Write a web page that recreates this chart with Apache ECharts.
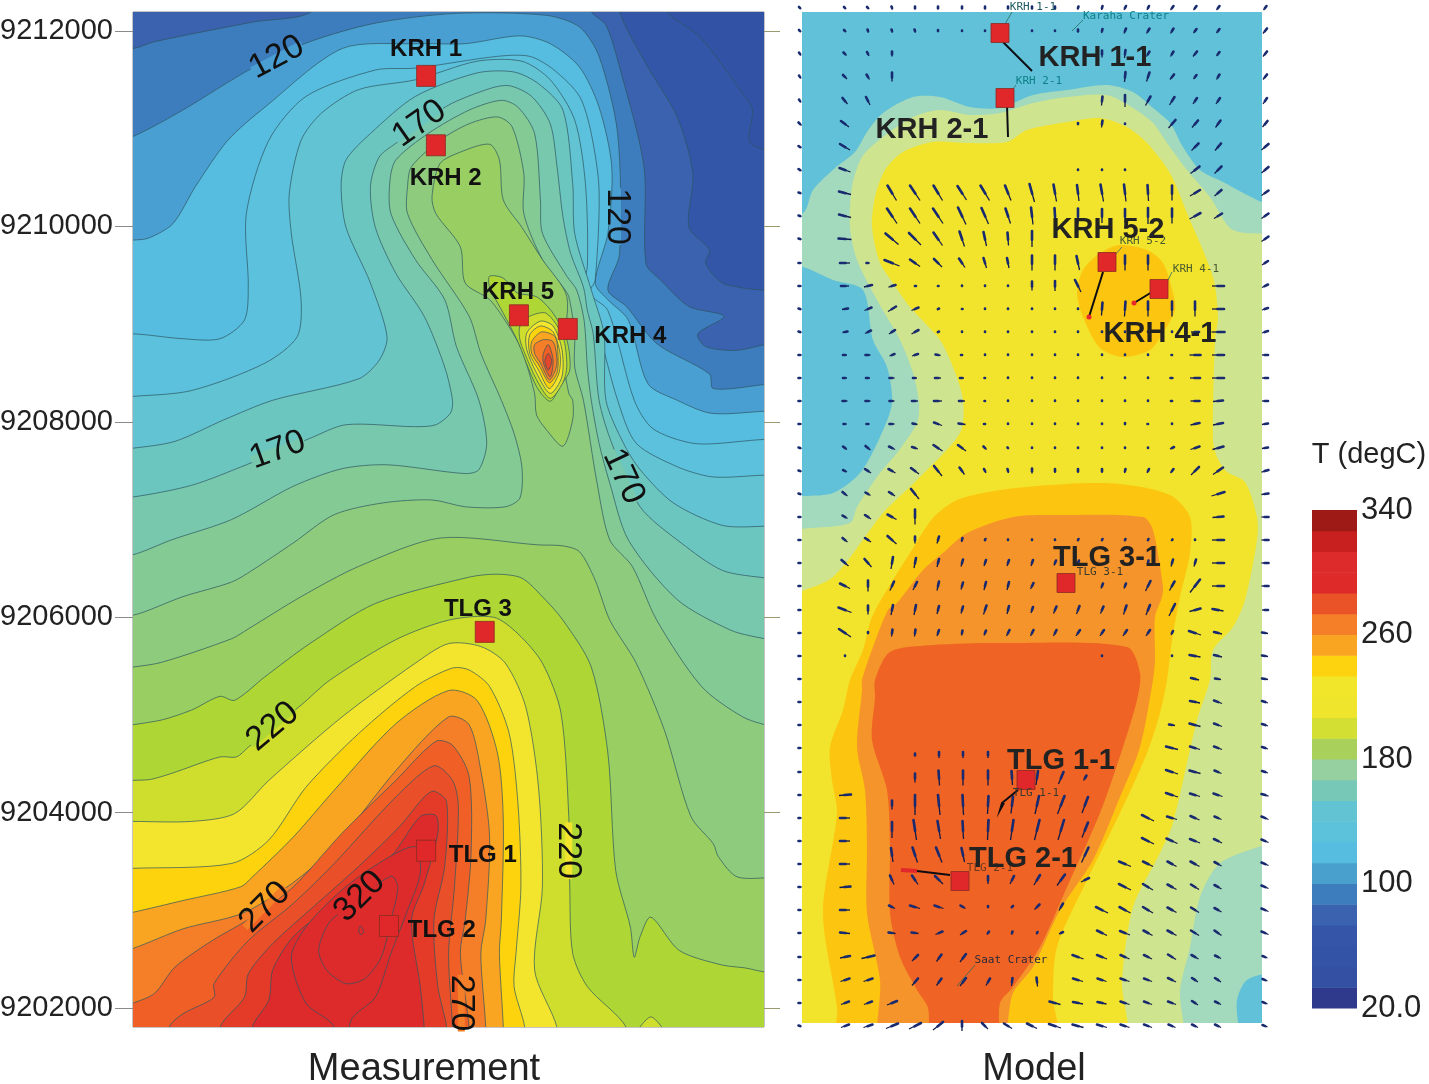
<!DOCTYPE html>
<html><head><meta charset="utf-8"><title>Measurement and Model</title>
<style>html,body{margin:0;padding:0;background:#fff}#c{width:1429px;height:1084px}</style>
<script src="https://cdn.jsdelivr.net/npm/echarts@6/dist/echarts.min.js"></script>
</head><body><div id="c"></div>
<script>
// Measured isotherms: easting (km from the map's west edge), northing (km above 9200000 m)
const m90=[[-0.4,12.6],[5.3,12.6],[5.46,12.2],[5.8,11.94],[6.24,11.36],[6.34,11.19],[6.32,10.85],[6.9,10.6]];
const m100=[[-0.4,12.6],[4.98,12.6],[4.98,12.2],[5.27,11.63],[5.57,11.12],[5.73,10.54],[5.69,9.99],[5.9,9.76],[5.86,9.62],[6.03,9.42],[6.19,9.38],[6.9,9.18]];
const m110=[[-0.4,11.82],[0,11.82],[0.22,11.89],[1.22,12.09],[1.83,12.2],[1.9,12.6],[4.6,12.6],[4.69,12.2],[4.84,12.06],[4.98,11.63],[5.23,10.61],[5.25,9.62],[5.4,9.45],[5.69,9.18],[6.05,9.08],[5.78,8.9],[5.86,8.77],[6.15,8.73],[6.9,8.77]];
const m120=[[-0.4,10.8],[0,10.92],[0.51,11.19],[1.22,11.62],[1.81,11.89],[2.48,12.08],[3.31,12.18],[4.23,12.16],[4.57,12.04],[4.77,11.74],[4.96,10.95],[4.98,9.72],[4.86,9.35],[5.05,9.18],[5.36,8.8],[5.9,8.49],[5.94,8.34],[6.9,8.29]];
const m130=[[-0.4,9.84],[0,9.86],[0.16,9.88],[0.41,10.03],[0.64,10.41],[0.97,10.88],[1.35,11.22],[2.14,11.82],[2.89,11.87],[3.4,11.87],[3.96,11.95],[4.27,11.87],[4.57,11.63],[4.77,11.22],[4.9,10.61],[4.86,9.93],[4.73,9.42],[4.86,9.25],[5.07,9.04],[5.27,8.39],[5.57,8.22],[5.9,8.09],[6.9,7.98]];
const m140=[[-0.4,8.88],[0,8.9],[0.51,8.85],[0.89,8.85],[1.14,9.04],[1.18,9.38],[1.16,10.13],[1.39,10.88],[1.77,11.33],[2.48,11.6],[2.89,11.62],[3.73,11.74],[4.06,11.74],[4.31,11.6],[4.57,11.33],[4.69,10.95],[4.77,10.37],[4.73,9.45],[4.67,9.31],[4.86,9.14],[5.13,8.22],[5.32,7.93],[5.73,7.78],[6.9,7.68]];
const m150=[[-0.4,8.24],[0,8.26],[0.6,8.32],[1.35,8.6],[1.68,8.87],[1.72,9.25],[1.62,9.93],[1.6,10.34],[1.72,10.88],[1.93,11.16],[2.31,11.4],[2.89,11.5],[3.52,11.69],[3.98,11.69],[4.27,11.5],[4.52,11.09],[4.63,10.44],[4.65,9.59],[4.59,9.31],[4.73,9.04],[4.96,8.22],[5.15,7.78],[5.57,7.54],[5.9,7.44],[6.9,7.32]];
const m160=[[-0.4,7.7],[0,7.73],[0.43,7.8],[0.93,8.02],[1.43,8.22],[2.31,8.44],[2.52,8.63],[2.6,8.87],[2.43,9.42],[2.18,9.99],[2.13,10.41],[2.18,10.68],[2.43,10.95],[2.89,11.33],[3.52,11.57],[3.9,11.58],[4.15,11.46],[4.4,11.19],[4.5,10.44],[4.52,9.93],[4.69,9.35],[4.82,8.9],[4.84,8.22],[5.02,7.78],[5.19,7.51],[5.53,7.17],[6.03,6.94],[6.9,6.81]];
const m170=[[-0.4,7.2],[0,7.23],[0.6,7.35],[1.16,7.56],[1.81,7.83],[2.18,7.97],[2.89,7.95],[3.1,7.97],[3.25,8.09],[3.27,8.22],[3.19,8.56],[2.98,9.08],[2.69,9.52],[2.48,9.99],[2.43,10.41],[2.52,10.71],[2.69,10.85],[3.21,11.23],[3.65,11.41],[3.85,11.44],[4.08,11.33],[4.27,11.05],[4.34,10.61],[4.4,10.1],[4.48,9.72],[4.61,9.38],[4.65,9.14],[4.71,8.9],[4.77,8.22],[4.9,7.78],[5.19,7.13],[5.61,6.76],[6.03,6.48],[6.9,6.21]];
const m180=[[-0.4,6.6],[0,6.64],[0.39,6.79],[1.01,7.0],[1.64,7.34],[2.14,7.52],[2.6,7.56],[3.4,7.47],[3.54,7.51],[3.62,7.78],[3.54,8.22],[3.31,8.77],[3.19,9.25],[2.89,9.66],[2.64,10.13],[2.63,10.47],[2.69,10.68],[3.02,10.95],[3.44,11.19],[3.77,11.29],[3.94,11.22],[4.11,10.95],[4.17,10.27],[4.19,9.93],[4.44,9.49],[4.54,9.35],[4.61,9.08],[4.63,8.9],[4.65,8.56],[4.69,8.22],[4.77,7.78],[4.88,7.37],[5.07,6.79],[5.57,6.18],[6.11,5.87],[6.9,5.56]];
const m190=[[-0.4,6.0],[0,6.02],[0.51,6.21],[1.01,6.36],[1.22,6.48],[1.64,6.76],[2.06,7.05],[2.56,7.17],[3.06,7.2],[3.4,7.13],[3.81,7.13],[3.96,7.22],[3.98,7.54],[3.9,7.88],[3.77,8.22],[3.56,8.7],[3.44,9.08],[3.06,9.66],[2.81,10.13],[2.81,10.41],[2.85,10.61],[3.14,10.88],[3.44,11.05],[3.73,11.12],[3.88,11.02],[4.0,10.54],[4.0,10.13],[4.19,9.66],[4.4,9.38],[4.46,9.28],[4.52,8.9],[4.52,8.56],[4.61,8.22],[4.75,7.37],[4.88,6.79],[5.11,6.52],[5.36,5.97],[5.82,5.29],[6.24,4.98],[6.9,4.67]];
const m200south=[[-0.4,5.45],[0,5.49],[0.3,5.54],[1.01,5.78],[1.18,5.88],[1.72,6.21],[2.31,6.52],[3.14,6.81],[4.15,6.74],[4.4,6.73],[4.57,6.67],[4.73,6.38],[4.88,5.97],[5.15,5.53],[5.44,4.84],[5.71,3.96],[5.94,3.68],[5.99,3.55],[6.19,3.34],[6.9,3.27]];
const m200north=[[3.06,10.3],[3.1,10.13],[3.35,9.79],[3.4,9.42],[3.65,9.25],[3.85,8.97],[3.98,8.73],[4.11,8.29],[4.13,8.07],[4.23,7.92],[4.4,7.75],[4.5,8.02],[4.5,8.22],[4.46,8.29],[4.4,8.7],[4.44,9.28],[4.19,9.66],[3.98,9.99],[3.79,10.27],[3.75,10.68],[3.65,10.84],[3.35,10.76],[3.14,10.64]];
const m210=[[-0.4,4.85],[0,4.9],[0.3,4.95],[0.6,5.05],[0.89,5.19],[1.04,5.15],[1.35,5.39],[1.81,5.73],[2.48,6.14],[3.44,6.41],[3.73,6.44],[3.98,6.4],[4.19,6.21],[4.4,5.97],[4.69,5.49],[4.86,4.61],[4.94,3.41],[5.09,2.83],[5.13,2.52],[5.19,2.73],[5.3,2.93],[5.59,2.59],[6.03,2.44],[6.32,2.4],[6.9,2.2]];
const m210peak=[[3.65,9.49],[3.79,9.47],[3.93,9.32],[4.13,9.28],[4.3,9.11],[4.44,8.84],[4.47,8.53],[4.37,8.36],[4.27,8.21],[4.13,8.36],[3.93,8.84],[3.79,9.11],[3.65,9.38]];
const m220peak=[[3.96,8.98],[4.06,9.08],[4.23,9.11],[4.4,8.87],[4.44,8.57],[4.4,8.4],[4.27,8.24],[4.13,8.43],[4.01,8.7],[3.96,8.84]];
const m230peak=[[4.03,8.91],[4.17,9.03],[4.3,8.98],[4.39,8.74],[4.39,8.46],[4.27,8.29],[4.13,8.5],[4.03,8.74]];
const m240peak=[[4.06,8.89],[4.17,8.98],[4.3,8.92],[4.37,8.7],[4.36,8.5],[4.26,8.34],[4.15,8.53],[4.06,8.7]];
const m250peak=[[4.08,8.82],[4.18,8.92],[4.32,8.87],[4.35,8.67],[4.34,8.5],[4.26,8.4],[4.16,8.57],[4.08,8.7]];
const m260peak=[[4.11,8.79],[4.2,8.84],[4.3,8.82],[4.34,8.63],[4.32,8.52],[4.26,8.43],[4.17,8.6],[4.11,8.7]];
const m270peak=[[4.2,8.7],[4.25,8.79],[4.3,8.63],[4.27,8.46],[4.2,8.6]];
const m280peak=[[4.25,8.7],[4.285,8.62],[4.25,8.53],[4.215,8.62]];
const m220=[[-0.4,4.3],[0,4.33],[0.18,4.34],[0.39,4.4],[0.89,4.57],[1.06,4.57],[1.18,4.67],[1.72,5.1],[2.02,5.36],[2.69,5.77],[3.23,5.97],[3.69,6.0],[3.94,5.83],[4.19,5.53],[4.38,5.02],[4.46,3.96],[4.47,3.24],[4.5,2.56],[4.65,2.22],[5.05,1.8],[5.2,1.2]];
const m220island=[[5.14,1.7],[5.3,1.91],[5.46,1.7]];
const m230=[[-0.4,3.91],[0,3.91],[0.6,3.91],[1.04,3.99],[1.39,4.33],[2.14,4.98],[2.89,5.53],[3.23,5.73],[3.56,5.7],[3.81,5.53],[4.02,5.08],[4.15,4.26],[4.19,3.24],[4.11,2.39],[4.34,1.8],[4.4,1.2]];
const m240=[[-0.4,3.42],[0,3.43],[1.01,3.48],[1.39,3.72],[1.77,4.26],[2.31,4.81],[2.89,5.29],[3.27,5.48],[3.44,5.46],[3.65,5.29],[3.85,4.81],[3.94,4.09],[3.97,3.24],[3.92,2.56],[3.9,2.22],[4.01,1.8],[4.05,1.2]];
const m250=[[-0.4,2.9],[0,2.98],[0.51,3.1],[1.1,3.24],[1.22,3.34],[1.64,3.75],[2.06,4.23],[2.69,4.91],[3.23,5.25],[3.52,5.15],[3.73,4.61],[3.79,3.92],[3.77,2.9],[3.75,2.56],[3.79,1.8],[3.8,1.2]];
const m260=[[-0.4,2.5],[0,2.61],[0.51,2.81],[1.12,2.97],[1.62,3.27],[2.06,3.65],[2.69,4.43],[3.23,4.98],[3.44,4.9],[3.56,4.43],[3.65,3.75],[3.61,2.9],[3.56,2.56],[3.61,1.8],[3.62,1.2]];
const m270=[[-0.4,1.9],[0,2.05],[0.22,2.15],[0.43,2.42],[0.81,2.69],[1.22,2.93],[1.64,3.24],[2.14,3.79],[2.69,4.33],[3.1,4.73],[3.27,4.69],[3.44,4.37],[3.46,3.58],[3.4,2.9],[3.35,2.56],[3.44,1.8],[3.45,1.2]];
const m280=[[0.33,1.2],[0.37,1.8],[0.51,1.94],[0.83,2.11],[0.83,2.25],[1.18,2.69],[1.64,3.07],[2.06,3.48],[2.69,4.16],[3.08,4.48],[3.27,4.33],[3.33,4.06],[3.29,3.24],[3.23,2.56],[3.27,1.8],[3.28,1.2]];
const m290=[[0.85,1.2],[0.89,1.8],[1.14,2.11],[1.18,2.35],[1.43,2.66],[1.85,3.04],[2.31,3.45],[2.73,3.86],[2.98,4.16],[3.08,4.22],[3.21,4.11],[3.19,3.45],[3.08,2.9],[3.12,2.22],[3.21,1.8],[3.22,1.2]];
const m300=[[1.2,1.2],[1.22,1.8],[1.39,2.08],[1.43,2.39],[1.64,2.73],[2.06,3.07],[2.64,3.55],[2.94,3.96],[3.1,3.97],[3.12,3.79],[2.98,3.27],[2.85,2.9],[2.94,2.22],[2.98,1.8],[3.0,1.2]];
const m310=[[2.0,1.2],[2.06,1.8],[1.77,2.05],[1.62,2.52],[1.77,2.83],[2.14,3.21],[2.56,3.51],[2.89,3.65],[2.94,3.38],[2.81,3.0],[2.64,2.56],[2.48,2.11],[2.23,1.87],[2.2,1.2]];
const m320=[[2.64,3.35],[2.71,3.24],[2.64,2.9],[2.54,2.52],[2.37,2.3],[2.18,2.25],[1.98,2.39],[1.9,2.59],[1.98,2.83],[2.06,2.93]];
const m320spot=[[2.33,2.84],[2.36,2.78],[2.33,2.75],[2.31,2.8]];

// Modelled temperature zones: x, y in km from the model panel's south-west corner
const zoneTeal=[[-0.3,8.1],[0.01,8.1],[0.11,8.33],[0.33,8.55],[0.53,8.71],[0.65,8.91],[0.81,9.1],[1.11,9.26],[1.38,9.26],[1.68,9.16],[1.98,9.15],[2.31,9.28],[2.65,9.33],[3.05,9.38],[3.31,9.31],[3.51,9.15],[3.68,9.0],[3.81,8.76],[3.98,8.53],[4.21,8.41],[4.6,8.21],[4.9,8.15],[4.9,0.63],[4.45,0.43],[4.35,0.23],[4.31,-0.3],[-0.3,-0.3],[-0.3,5.16],[0.31,5.3],[0.58,5.5],[0.78,5.86],[0.9,6.2],[0.85,6.56],[0.71,6.83],[0.61,7.33],[0.31,7.43],[0.01,7.56],[-0.3,7.6]];
const zoneLime=[[-0.3,4.8],[0.48,5.0],[0.55,5.16],[0.78,5.5],[0.95,5.7],[1.15,6.0],[1.17,6.2],[1.11,6.5],[0.98,6.83],[0.75,7.23],[0.55,7.63],[0.48,7.96],[0.5,8.36],[0.6,8.66],[0.81,8.86],[1.11,9.06],[1.38,9.13],[1.68,9.08],[1.98,9.1],[2.31,9.2],[2.65,9.26],[3.05,9.28],[3.31,9.15],[3.51,9.0],[3.65,8.8],[3.85,8.53],[4.08,8.26],[4.31,7.93],[4.9,7.8],[4.9,2.0],[4.18,1.6],[3.98,1.26],[3.88,0.76],[3.78,0.33],[3.76,-0.3],[-0.3,-0.3]];
const zoneYellow=[[-0.3,4.11],[0.31,4.46],[0.81,5.1],[1.15,5.43],[1.58,5.9],[1.61,6.23],[1.51,6.56],[1.38,6.83],[1.08,7.16],[0.91,7.4],[0.78,7.6],[0.7,7.96],[0.73,8.26],[0.83,8.53],[1.01,8.71],[1.31,8.81],[1.65,8.8],[2.05,8.81],[2.25,8.93],[2.65,9.01],[2.98,9.05],[3.25,8.96],[3.45,8.8],[3.68,8.5],[3.85,8.1],[4.11,7.46],[4.16,7.06],[4.13,6.83],[4.11,5.83],[4.15,5.66],[4.25,5.51],[4.43,5.41],[4.55,5.06],[4.55,4.83],[4.43,4.23],[4.31,3.96],[4.11,3.73],[4.08,3.43],[3.95,3.03],[3.71,2.0],[3.58,1.7],[3.31,1.16],[3.2,0.43],[3.2,-0.3],[-0.3,-0.3]];
const zoneGoldNorth=[[2.75,7.3],[2.81,7.53],[2.98,7.7],[3.18,7.78],[3.45,7.73],[3.61,7.6],[3.71,7.3],[3.73,7.13],[3.61,6.9],[3.48,6.73],[3.21,6.66],[2.98,6.75],[2.81,7.06]];
const zoneGoldSouth=[[0.48,3.43],[0.61,3.73],[0.7,4.06],[0.91,4.43],[1.08,4.7],[1.31,5.05],[1.55,5.23],[1.98,5.33],[2.65,5.39],[3.18,5.39],[3.68,5.28],[3.88,5.06],[3.88,4.7],[3.78,4.26],[3.7,3.83],[3.65,3.43],[3.58,3.1],[3.45,2.7],[3.18,2.1],[2.85,1.43],[2.55,0.76],[2.51,0.26],[2.54,-0.3],[0.38,-0.3],[0.35,0.16],[0.21,1.1],[0.35,2.1],[0.3,2.43],[0.28,2.76],[0.41,3.13]];
const zoneOrange=[[0.6,3.43],[0.71,3.76],[0.86,4.13],[0.95,4.2],[1.21,4.53],[1.41,4.7],[1.65,4.9],[2.11,5.06],[2.58,5.08],[3.41,5.06],[3.51,4.93],[3.61,4.36],[3.6,4.26],[3.53,4.06],[3.53,3.63],[3.51,3.43],[3.38,2.76],[3.18,2.26],[2.91,1.63],[2.58,1.13],[2.31,0.56],[2.11,0.3],[1.95,-0.3],[0.81,-0.3],[0.78,0.43],[0.65,1.1],[0.65,1.76],[0.63,2.33],[0.55,2.76],[0.6,3.33]];
const zoneDeepOrange=[[0.73,3.43],[0.88,3.71],[1.31,3.78],[2.05,3.8],[3.25,3.76],[3.38,3.5],[3.35,3.23],[3.21,2.76],[2.98,2.1],[2.65,1.36],[2.38,0.76],[2.11,0.36],[1.98,0.2],[1.93,-0.3],[1.31,-0.3],[1.26,0.15],[1.15,0.33],[0.98,0.66],[0.88,1.1],[0.88,1.76],[0.85,2.33],[0.7,2.83],[0.73,3.26]];

// Velocity arrows on the model grid: u, v pairs in the order of vecColumns
const vecColumns=[-0.02,0.43,0.66,0.9,1.13,1.36,1.6,1.83,2.06,2.3,2.53,2.76,3.0,3.23,3.46,3.7,3.93,4.16,4.63];
const vecRows=[10.15,9.92,9.69,9.46,9.22,8.99,8.76,8.53,8.30,8.07,7.84,7.60,7.37,7.14,6.91,6.68,6.45,6.22,5.99,5.75,5.52,5.29,5.06,4.83,4.60,4.37,4.13,3.90,3.67,3.44,3.21,2.98,2.75,2.51,2.28,2.05,1.82,1.59,1.36,1.13,0.90,0.66,0.43,0.20,-0.03];
const vecRow00=[-2,2,-2,2,-2,2,-1,3,0,3,0,3,0,3,0,3,0,3,0,3,0,3,1,3,1,4,2,4,2,4,3,4,3,4,3,4,3,4];
const vecRow01=[-2,2,-2,2,-1,3,-1,3,-1,3,0,2,0,1,0,1,0,0,0,1,0,1,0,3,1,4,2,5,3,5,3,5,3,4,3,4,4,5];
const vecRow02=[-2,3,-3,3,-2,4,0,5,0,0,0,0,0,0,0,0,0,0,0,0,0,0,0,0,0,7,1,8,3,5,3,5,4,5,3,4,4,5];
const vecRow03=[-2,3,-4,4,-3,5,0,9,0,0,0,0,0,0,0,0,0,0,0,0,0,0,0,0,0,0,1,10,3,9,4,5,3,4,3,5,4,5];
const vecRow04=[-2,3,-5,6,-4,8,0,0,0,0,0,0,0,0,0,0,0,0,0,0,0,0,0,0,1,9,0,12,5,9,5,8,4,6,4,6,4,6];
const vecRow05=[-3,3,-8,6,0,0,0,0,0,0,0,0,0,0,0,0,0,0,0,0,0,0,0,2,1,7,0,1,0,0,7,8,6,7,5,7,5,6];
const vecRow06=[-3,2,-10,6,0,0,0,0,0,0,0,0,0,0,0,0,0,0,0,0,0,0,0,0,0,0,0,0,0,0,0,0,7,7,6,7,7,6];
const vecRow07=[-3,2,-11,4,0,0,0,0,0,0,0,0,0,0,0,0,0,0,0,0,0,0,0,1,0,1,0,1,0,0,0,0,9,7,7,7,7,6];
const vecRow08=[-3,1,-12,3,0,0,-9,15,-10,15,-9,15,-9,14,-9,15,-6,15,-5,18,-3,17,-2,16,-3,17,-2,17,-1,16,0,15,10,6,7,6,7,5];
const vecRow09=[-3,1,-12,3,0,0,-10,15,-10,15,-10,15,-8,17,-7,16,-5,15,-2,17,-1,16,0,15,0,14,0,14,0,16,0,15,11,6,8,5,7,5];
const vecRow10=[-3,1,-13,1,0,0,-13,11,-12,12,-9,13,-5,15,-3,14,-1,13,0,16,0,0,0,0,0,0,0,0,0,0,0,0,0,0,0,0,7,5];
const vecRow11=[-3,0,-10,0,-3,0,-15,6,-10,7,-8,8,-6,9,-3,10,-2,10,0,15,0,15,-3,14,0,12,0,15,0,15,0,0,0,0,0,0,6,4];
const vecRow12=[-3,0,-8,0,8,2,7,2,2,0,1,0,0,1,0,1,0,1,0,9,0,10,-6,12,0,0,0,0,0,0,0,0,0,0,12,0,6,3];
const vecRow13=[-3,1,6,1,7,3,8,5,7,3,2,1,1,0,0,1,0,1,0,1,0,1,0,1,1,13,1,15,0,15,0,15,0,15,12,0,6,2];
const vecRow14=[-3,1,5,1,6,3,6,4,7,4,2,1,0,1,0,1,0,1,0,1,0,1,0,1,0,1,0,1,0,1,0,1,8,0,13,0,6,2];
const vecRow15=[-3,0,-4,0,-5,0,5,2,6,2,-5,1,-2,0,0,1,0,1,0,1,0,1,0,1,0,1,0,1,0,1,-1,0,11,0,12,0,6,0];
const vecRow16=[-3,0,-4,0,-4,0,-5,0,-4,0,-6,0,-4,0,-1,0,0,1,0,1,0,1,0,1,0,1,0,1,0,1,-3,0,10,0,12,0,6,0];
const vecRow17=[-3,0,-5,0,-5,0,-5,0,-6,0,-8,0,-6,0,-1,0,0,1,0,1,0,1,0,1,0,1,0,1,0,1,-2,0,9,0,10,1,6,0];
const vecRow18=[-3,0,-3,0,-3,0,-5,0,-5,1,-8,3,-7,1,-2,0,0,1,0,1,0,1,0,1,0,1,0,2,-1,0,0,1,9,2,10,2,6,1];
const vecRow19=[-3,1,-4,3,-5,4,-6,3,-6,2,-9,6,-8,6,-3,3,-1,1,0,1,0,1,0,1,0,1,0,1,0,1,4,2,9,3,11,3,6,1];
const vecRow20=[-3,1,-4,2,-6,4,-7,4,-8,6,-8,10,-5,7,-2,4,-1,4,0,5,0,4,0,4,0,4,1,4,2,4,3,4,8,8,10,7,7,2];
const vecRow21=[-3,1,-5,4,-5,3,-6,4,-8,10,0,0,0,0,0,0,0,0,0,0,0,0,0,0,0,0,0,0,0,0,0,0,0,0,13,4,7,1];
const vecRow22=[-3,0,-5,3,-6,4,-9,5,0,15,0,0,0,0,0,0,0,0,0,0,0,0,0,0,0,0,0,0,0,0,0,0,0,0,11,1,7,0];
const vecRow23=[-3,0,-5,4,-6,4,-9,8,0,7,2,7,1,4,1,2,0,1,0,1,0,1,1,2,1,2,1,2,1,2,1,1,0,1,12,0,7,0];
const vecRow24=[-3,0,-7,6,-7,8,2,12,2,10,2,8,2,7,2,6,2,6,2,6,2,5,2,5,0,0,0,0,1,5,2,7,2,7,12,0,7,0];
const vecRow25=[-3,0,-10,5,0,11,4,9,4,8,2,9,2,7,2,8,2,8,3,6,0,0,0,0,2,5,2,5,5,10,5,9,10,13,12,0,7,0];
const vecRow26=[-3,0,-13,5,0,9,2,10,2,10,2,8,2,7,3,9,2,8,2,6,3,7,3,8,3,7,3,9,4,10,6,12,11,3,-11,2,6,0];
const vecRow27=[-3,0,-12,8,0,2,1,7,1,7,2,6,1,5,2,5,3,6,3,6,3,6,4,6,4,6,4,6,4,6,2,4,-12,4,-8,2,-6,1];
const vecRow28=[-3,0,0,1,0,0,0,0,0,0,0,0,0,0,0,0,0,0,0,0,0,0,0,0,0,1,0,0,0,0,0,1,-11,2,-8,2,-6,1];
const vecRow29=[-3,0,0,0,0,0,0,0,0,0,0,0,0,0,0,0,0,0,0,0,0,0,0,0,0,0,0,0,0,0,0,0,-8,2,-6,1,-6,1];
const vecRow30=[-3,0,0,0,0,0,0,0,0,0,0,0,0,0,0,0,0,0,0,0,0,0,0,0,0,0,0,0,0,0,0,0,-10,2,-8,3,-6,2];
const vecRow31=[-3,0,0,0,0,0,0,0,0,0,0,0,0,0,0,0,0,0,0,0,0,0,0,0,0,0,0,0,0,0,-6,1,-11,3,-8,3,-6,2];
const vecRow32=[-3,0,0,0,0,0,0,0,0,0,0,0,0,0,0,0,0,0,0,0,0,0,0,0,0,0,0,0,0,0,-12,3,-10,3,-8,3,-6,2];
const vecRow33=[-3,0,0,0,0,0,0,0,0,0,0,0,0,0,0,0,0,0,0,0,0,0,0,0,0,0,0,0,0,0,-12,4,-11,3,-7,3,-6,2];
const vecRow34=[-3,0,12,1,0,0,0,0,0,0,0,0,0,0,0,0,0,0,0,0,0,0,0,0,0,0,0,0,0,0,-12,4,-10,3,-9,3,-7,2];
const vecRow35=[-3,0,-10,0,0,0,0,0,0,0,0,0,0,0,0,0,0,0,0,0,0,0,0,0,0,0,0,0,-12,6,-10,3,-9,4,-7,3,-7,3];
const vecRow36=[-3,0,-10,0,0,0,0,0,0,0,0,0,0,0,0,0,0,0,0,0,0,0,0,0,0,0,0,0,-12,6,-11,5,-10,4,-8,4,-7,3];
const vecRow37=[-3,0,-10,0,0,0,0,0,0,0,0,0,0,0,0,0,0,0,0,0,0,0,0,0,0,0,-12,5,-10,5,-9,5,-9,5,-7,4,-7,3];
const vecRow38=[-3,0,11,1,0,0,0,0,0,0,0,0,0,0,0,0,0,0,0,0,0,0,0,0,0,0,-12,6,-10,6,-9,5,-8,5,-7,4,-7,3];
const vecRow39=[-3,0,-10,0,0,0,0,0,0,0,0,0,0,0,0,0,0,0,0,0,0,0,0,0,-12,6,-11,6,-10,6,-9,5,-8,5,-7,4,-7,3];
const vecRow40=[-3,0,-10,1,0,0,0,0,0,0,0,0,0,0,0,0,0,0,0,0,0,0,0,0,-10,5,-10,4,-9,5,-9,5,-8,5,-7,5,-7,3];
const vecRow41=[-3,0,10,2,13,3,0,0,0,0,0,0,0,0,0,0,0,0,0,0,0,0,-11,4,-10,4,-9,4,-8,4,-8,5,-7,4,-6,3,-5,2];
const vecRow42=[-3,0,9,3,9,3,0,0,0,0,0,0,0,0,0,0,0,0,0,0,0,0,-10,3,-9,3,-9,3,-8,3,-8,4,-6,4,-6,4,-5,2];
const vecRow43=[-3,0,8,3,8,3,10,4,0,0,0,0,0,0,0,0,0,0,0,0,-11,3,-10,2,-9,2,-9,3,-8,3,-8,3,-6,4,-6,3,-5,2];
const vecRow44=[-3,1,8,3,9,3,12,5,12,6,10,8,0,10,-6,6,-8,5,-10,5,-12,4,-11,3,-10,3,-9,3,-8,3,-7,3,-6,3,-6,3,-5,2];
const vecAllRows=[vecRow00,vecRow01,vecRow02,vecRow03,vecRow04,vecRow05,vecRow06,vecRow07,vecRow08,vecRow09,vecRow10,vecRow11,vecRow12,vecRow13,vecRow14,vecRow15,vecRow16,vecRow17,vecRow18,vecRow19,vecRow20,vecRow21,vecRow22,vecRow23,vecRow24,vecRow25,vecRow26,vecRow27,vecRow28,vecRow29,vecRow30,vecRow31,vecRow32,vecRow33,vecRow34,vecRow35,vecRow36,vecRow37,vecRow38,vecRow39,vecRow40,vecRow41,vecRow42,vecRow43,vecRow44];
// Denser velocity block around the TLG wells
const tlgColumns=[0.9,1.13,1.37,1.61,1.86,2.1,2.35,2.59,2.83];
const tlgRows=[2.68,2.45,2.18,1.93,1.68,1.43,1.16,0.9,0.65,0.41];
const tlgRow0=[0,0,0,3,0,6,0,6,0,6,0,0,0,0,0,0,0,0];
const tlgRow1=[0,0,0,9,-1,15,0,15,0,15,-1,14,2,14,5,12,3,5];
const tlgRow2=[0,9,0,20,-2,20,-1,20,1,18,2,17,4,18,7,18,6,16];
const tlgRow3=[0,16,-3,20,-3,18,-1,18,1,20,3,20,5,20,6,20,6,15];
const tlgRow4=[-2,14,-5,15,-6,15,-3,14,0,0,0,0,0,0,0,0,7,15];
const tlgRow5=[-4,9,-6,9,-8,8,0,0,0,8,4,8,6,10,8,11,8,4];
const tlgRow6=[-6,3,-10,3,-9,3,-5,3,0,2,2,2,5,5,4,7,0,0];
const tlgRow7=[-7,1,-7,1,7,3,6,4,2,3,1,3,1,2,4,2,0,0];
const tlgRow8=[0,0,6,6,5,7,6,8,0,0,0,0,0,0,0,0,0,0];
const tlgRow9=[0,0,6,7,5,7,6,8,4,7,1,8,-1,9,0,0,0,0];
const tlgAllRows=[tlgRow0,tlgRow1,tlgRow2,tlgRow3,tlgRow4,tlgRow5,tlgRow6,tlgRow7,tlgRow8,tlgRow9];

// Wells and labels
const measuredWells=[[3.0,11.54],[3.1,10.83],[3.95,9.09],[4.45,8.95],[3.6,5.85],[3.0,3.61],[2.62,2.84]];
const measuredNames=['KRH 1','KRH 2','KRH 5','KRH 4','TLG 3','TLG 1','TLG 2'];
const measuredNameAt=[[3.0,11.81],[3.2,10.49],[3.94,9.32],[5.09,8.87],[3.53,6.08],[3.58,3.56],[3.16,2.79]];
const contourLabels=['120','170','120','170','170','220','220','270','320','270'];
const contourLabelAt=[[1.47,11.73],[2.93,11.05],[4.96,10.1],[1.48,7.71],[5.02,7.44],[1.43,4.88],[4.46,3.61],[1.35,3.03],[2.32,3.14],[3.36,2.05]];
const contourLabelTurn=[28,35,-90,20,-65,40,-90,45,45,-90];
const contourLabelBg=['#4a9fd2','#6cc6c0','#4a9fd2','#78c8ae','#78c8ae','#aed634','#f3e52e','#f57f28','#dd2a2a','#f57f28'];
const modelWells=[[1.98,9.9],[2.03,9.25],[3.05,7.61],[3.57,7.34],[2.64,4.4],[2.24,2.43],[1.58,1.42]];
const modelNames=['KRH 1-1','KRH 2-1','KRH 5-2','KRH 4-1','TLG 3-1','TLG 1-1','TLG 2-1'];
const modelNameAt=[[2.93,9.65],[1.3,8.93],[3.06,7.93],[3.58,6.89],[3.05,4.65],[2.59,2.62],[2.21,1.64]];
const modelTags=['KRH 1-1','Karaha Crater','KRH 2-1','KRH 5-2','KRH 4-1','TLG 3-1','TLG 1-1','TLG 2-1','Saat Crater'];
const modelTagAt=[[2.31,10.16],[3.24,10.07],[2.37,9.42],[3.41,7.82],[3.94,7.54],[2.98,4.51],[2.34,2.3],[1.88,1.55],[2.09,0.63]];
const modelTagColor=['#1c5a60','#0e7f86','#0e7f86','#4a5a30','#4a5a30','#3a3a30','#3a3a30','#6a3a20','#2a2a3a'];
const trackKRH11=[[2.01,9.81],[2.3,9.52]];
const trackKRH21=[[2.05,9.18],[2.06,8.86]];
const trackKRH52=[[3.01,7.51],[2.87,7.06]];
const trackKRH41=[[3.5,7.31],[3.32,7.2]];
const trackTLG11=[[2.16,2.33],[2.0,2.2],[1.98,2.13],[2.02,2.2]];
const trackTLG21=[[1.48,1.48],[1.15,1.52]];
const trackTLG21Red=[[1.15,1.52],[0.99,1.53]];
const leaderLines=[[[2.03,9.99],[2.1,10.11]],[[2.7,9.92],[2.81,10.03]],[[2.1,9.33],[2.14,9.38]],[[3.13,7.68],[3.2,7.76]],[[3.65,7.41],[3.7,7.51]],[[1.55,0.37],[1.73,0.58]]];
const redEnds=[[2.87,7.06],[3.32,7.2]];

// Colour scale
const scaleLabels=[20,100,180,260,340];
const scaleBandLow=[20,33.3,46.7,60,73.3,86.7,100,113.3,126.7,140,153.3,166.7,180,193.3,206.7,220,233.3,246.7,260,273.3,286.7,300,313.3,326.7];
const scaleBandHigh=[33.3,46.7,60,73.3,86.7,100,113.3,126.7,140,153.3,166.7,180,193.3,206.7,220,233.3,246.7,260,273.3,286.7,300,313.3,326.7,340];
const scaleBandColor=['#2f3a8c','#3350a2','#3353a6','#3556a8','#3a62ae','#3d7cbd','#4aa0cd','#56bce0','#5cc1db','#62c3d2','#78c8b8','#97d0a0','#a9d05a','#d3df33','#efe52c','#f2e62a','#fdd30f','#faa521','#f57f28','#ea5327','#de2b2a','#dd2a2a','#c8201f','#9e1a16'];
const northingTicks=[2,4,6,8,10,12];
const panelTitles=['Measurement','Model'];

const FONT='"Liberation Sans",Arial,sans-serif';
const openRegion=p=>p.concat([[6.9,1.2],[-0.4,1.2]]);
const measuredLayers=[
 {p:[[-1,13],[8,13],[8,1],[-1,1]],c:'#3253a5'},
 {p:openRegion(m90),c:'#3456a8'},{p:openRegion(m100),c:'#3a62ae'},{p:openRegion(m110),c:'#3d7cbd'},
 {p:openRegion(m120),c:'#4a9fd2'},{p:openRegion(m130),c:'#56bce0'},{p:openRegion(m140),c:'#5cc1dc'},
 {p:openRegion(m150),c:'#62c3d2'},{p:openRegion(m160),c:'#6cc6c0'},{p:openRegion(m170),c:'#78c8ae'},
 {p:openRegion(m180),c:'#84ca94'},{p:openRegion(m190),c:'#8ecb7c'},
 {p:m200north,c:'#98ce62'},{p:m210peak,c:'#aed634'},{p:m220peak,c:'#cfde2c'},{p:m230peak,c:'#f3e52e'},
 {p:m240peak,c:'#fdd30d'},{p:m250peak,c:'#faa521'},{p:m260peak,c:'#f57f28'},{p:m270peak,c:'#ef5f26'},{p:m280peak,c:'#e5452a'},
 {p:openRegion(m200south),c:'#98ce62'},{p:openRegion(m210),c:'#aed634'},{p:m220island,c:'#cfde2c'},{p:openRegion(m220),c:'#cfde2c'},
 {p:openRegion(m230),c:'#f3e52e'},{p:openRegion(m240),c:'#fdd30d'},{p:openRegion(m250),c:'#faa521'},
 {p:openRegion(m260),c:'#f57f28'},{p:openRegion(m270),c:'#ef5f26'},{p:openRegion(m280),c:'#e9502a'},
 {p:openRegion(m290),c:'#e33b28'},{p:openRegion(m300),c:'#dd2a2a'},{p:openRegion(m310),c:'#dd2a2a'},
 {p:m320,c:'#dd2a2a'},{p:m320spot,c:'#dd2a2a'}
];
const modelLayers=[
 {p:[[-1,11],[6,11],[6,-1],[-1,-1]],c:'#60c1d9'},
 {p:zoneTeal,c:'#a3d9bc'},{p:zoneLime,c:'#cfe48f'},{p:zoneYellow,c:'#f2e42c'},
 {p:zoneGoldNorth,c:'#fcc50f'},{p:zoneGoldSouth,c:'#fcc50f'},{p:zoneOrange,c:'#f5942a'},{p:zoneDeepOrange,c:'#ef6324'}
];
const regionSeries=(layers,axis,stroke,width)=>({
 type:'custom',xAxisIndex:axis,yAxisIndex:axis,clip:true,silent:true,
 data:layers.map(l=>({value:l.p[0]})),
 renderItem:(params,api)=>{const L=layers[params.dataIndex];
  return {type:'polygon',shape:{points:L.p.map(q=>api.coord(q)),smooth:0.28},
   style:{fill:L.c,stroke:stroke,lineWidth:width}};}
});
// vector records
const vectors=[];
vecAllRows.forEach((row,r)=>{vecColumns.forEach((x,c)=>{const u=row[2*c],v=row[2*c+1];
 if(u||v)vectors.push([x,vecRows[r],u,v]);});});
tlgAllRows.forEach((row,r)=>{tlgColumns.forEach((x,c)=>{const u=row[2*c],v=row[2*c+1];
 if(u||v)vectors.push([x,tlgRows[r],u,v]);});});
const vecSeries={type:'custom',xAxisIndex:1,yAxisIndex:1,clip:false,silent:true,
 dimensions:['x','y','u','v'],encode:{x:0,y:1},data:vectors,
 renderItem:(params,api)=>{
  const x=api.value(0),y=api.value(1),u=api.value(2)/100,v=api.value(3)/100;
  const a=api.coord([x-u/2,y-v/2]),b=api.coord([x+u/2,y+v/2]),m=api.coord([x-u*0.05,y-v*0.05]);
  return {type:'group',children:[
   {type:'line',shape:{x1:a[0],y1:a[1],x2:b[0],y2:b[1]},style:{stroke:'#121a48',lineWidth:1.3}},
   {type:'line',shape:{x1:m[0],y1:m[1],x2:b[0],y2:b[1]},style:{stroke:'#182a70',lineWidth:2.6,lineCap:'round'}}
  ]};}
};
const polySeries=(lines,color,width)=>({type:'custom',xAxisIndex:1,yAxisIndex:1,clip:false,silent:true,
 data:lines.map(l=>({value:l[0]})),
 renderItem:(params,api)=>({type:'polyline',shape:{points:lines[params.dataIndex].map(q=>api.coord(q))},
  style:{stroke:color,lineWidth:width,fill:null}})});
const textSeries=(axis,at,texts,labelOf)=>({type:'scatter',xAxisIndex:axis,yAxisIndex:axis,clip:false,silent:true,
 symbolSize:1,itemStyle:{color:'rgba(0,0,0,0)',opacity:1},
 data:at.map((p,i)=>({value:p,name:texts[i],label:Object.assign({show:true,position:'inside',opacity:1,formatter:texts[i],fontFamily:FONT},labelOf(i))}))});
const wellSeries=(axis,wells,size)=>({type:'scatter',xAxisIndex:axis,yAxisIndex:axis,clip:false,silent:true,
 symbol:'rect',symbolSize:size,itemStyle:{color:'#e0282a',opacity:1,borderColor:'#8a2a22',borderWidth:0.8},data:wells});

const chart=echarts.init(document.getElementById('c'),null,{renderer:'canvas'});
chart.setOption({
 animation:false,backgroundColor:'#fff',
 grid:[
  {left:133,top:12,width:631,height:1015,outerBoundsMode:'none',show:true,borderColor:'#8a8a8a',borderWidth:1,backgroundColor:'transparent'},
  {left:802,top:12,width:460,height:1011,outerBoundsMode:'none'},
  {left:1312,top:510,width:45,height:498,outerBoundsMode:'none'}
 ],
 title:[
  {text:'T (degC)',left:1369,top:440,textAlign:'center',textStyle:{fontFamily:FONT,fontWeight:'normal',fontSize:29,color:'#222'},padding:0},
  {text:panelTitles[0],left:424,top:1051,textAlign:'center',textStyle:{fontFamily:FONT,fontWeight:'normal',fontSize:38,color:'#222'},padding:0},
  {text:panelTitles[1],left:1034,top:1051,textAlign:'center',textStyle:{fontFamily:FONT,fontWeight:'normal',fontSize:38,color:'#222'},padding:0}
 ],
 xAxis:[
  {gridIndex:0,type:'value',min:0,max:6.458,show:false},
  {gridIndex:1,type:'value',min:0,max:4.6,show:false},
  {gridIndex:2,type:'value',min:0,max:1,show:false}
 ],
 yAxis:[
  {gridIndex:0,type:'value',min:1.806,max:12.194,axisLine:{show:false},splitLine:{show:false},
   axisTick:{show:true,length:18,customValues:northingTicks,lineStyle:{color:'#8a8a8a'}},
   axisLabel:{show:true,margin:20,padding:[4,0,0,0],customValues:northingTicks,formatter:v=>String(9200000+Math.round(v)*1000),fontFamily:FONT,fontSize:29,color:'#222'}},
  {gridIndex:1,type:'value',min:0,max:10.11,show:false},
  {gridIndex:2,type:'value',min:20,max:340,position:'right',axisLine:{show:false},axisTick:{show:false},splitLine:{show:false},
   axisLabel:{show:true,margin:4,padding:[6,0,0,0],customValues:scaleLabels,formatter:v=>v===20?'20.0':String(v),fontFamily:FONT,fontSize:31,color:'#222'}},
  {gridIndex:0,type:'value',min:1.806,max:12.194,position:'right',axisLine:{show:false},splitLine:{show:false},
   axisTick:{show:true,length:16,customValues:northingTicks,lineStyle:{color:'#9a9a70'}},axisLabel:{show:false}}
 ],
 series:[
  regionSeries(measuredLayers,0,'#2d5560',0.7),
  regionSeries(modelLayers,1,'none',0),
  {type:'custom',xAxisIndex:2,yAxisIndex:2,silent:true,dimensions:['x','low','high'],encode:{x:0,y:[1,2]},
   data:scaleBandLow.map((l,i)=>[0,l,scaleBandHigh[i]]),
   renderItem:(params,api)=>{
    const a=api.coord([0,api.value(2)]),b=api.coord([1,api.value(1)]);
    return {type:'rect',shape:{x:a[0],y:a[1],width:b[0]-a[0],height:b[1]-a[1]+0.5},style:{fill:scaleBandColor[params.dataIndex]}};}},
  textSeries(0,contourLabelAt,contourLabels,i=>({rotate:contourLabelTurn[i],fontSize:34,color:'#111',backgroundColor:contourLabelBg[i],lineHeight:7,padding:0})),
  wellSeries(0,measuredWells,[19,21]),
  textSeries(0,measuredNameAt,measuredNames,i=>({fontSize:24,fontWeight:'bold',color:'#111'})),
  vecSeries,
  polySeries(leaderLines,'#2a6a60',0.8),
  polySeries([trackKRH11,trackKRH21,trackKRH52,trackKRH41,trackTLG11,trackTLG21],'#0c0c12',2),
  polySeries([trackTLG21Red],'#e0282a',4),
  {type:'scatter',xAxisIndex:1,yAxisIndex:1,silent:true,symbolSize:5,itemStyle:{color:'#e8282a',opacity:1},data:redEnds},
  textSeries(1,modelTagAt,modelTags,i=>({fontFamily:'"DejaVu Sans Mono",monospace',fontSize:11,color:modelTagColor[i]})),
  wellSeries(1,modelWells,[18,19]),
  textSeries(1,modelNameAt,modelNames,i=>({fontSize:29,fontWeight:'bold',color:'#222'}))
 ]
});
</script></body></html>
